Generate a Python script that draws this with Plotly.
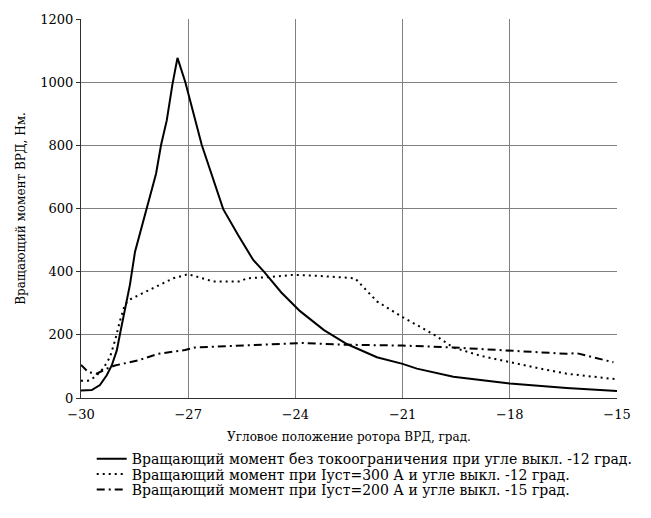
import plotly.graph_objects as go

# Rotor angle, degrees, and torque, N*m, for three switching modes
angle_free = [-30.0, -29.7, -29.47, -29.28, -29.14, -29.0, -28.91, -28.79, -28.63, -28.49,
              -28.16, -27.9, -27.76, -27.6, -27.44, -27.3, -27.08, -26.62, -26.02, -25.6,
              -25.18, -24.88, -24.4, -23.87, -23.2, -22.56, -21.72, -21.0, -20.6, -19.58,
              -18.0, -16.41, -15.0]
torque_free = [24, 25, 41, 72, 103, 150, 202, 265, 359, 462,
               598, 710, 801, 879, 994, 1077, 1000, 801, 598, 515,
               437, 400, 335, 275, 215, 171, 129, 108, 93, 67,
               46, 32, 22]

angle_300 = [-30.0, -29.8, -29.6, -29.38, -29.19, -29.05, -28.91, -28.77, -28.63, -28.07,
             -27.42, -27.0, -26.6, -26.3, -25.55, -25.36, -24.7, -24.06, -23.4, -22.75,
             -22.33, -21.72, -21.0, -20.14, -19.58, -18.83, -18.0, -17.15, -16.41, -15.0]
torque_300 = [55, 55, 67, 93, 129, 181, 244, 296, 312, 343,
              379, 392, 378, 369, 369, 379, 383, 390, 387, 381,
              379, 306, 256, 202, 160, 134, 113, 93, 77, 59]

angle_200 = [-30.0, -29.8, -29.56, -29.28, -29.05, -28.4, -27.84, -27.09, -26.81, -25.55,
             -23.78, -22.75, -21.0, -19.58, -18.0, -16.41, -16.13, -15.1]
torque_200 = [105, 82, 77, 93, 103, 119, 140, 152, 160, 166,
              174, 169, 166, 160, 150, 140, 142, 113]

x_ticks = [-30, -27, -24, -21, -18, -15]
y_ticks = [0, 200, 400, 600, 800, 1000, 1200]

names = [
    "Вращающий момент без токоограничения при угле выкл. -12 град.",
    "Вращающий момент при Iуст=300 А и угле выкл. -12 град.",
    "Вращающий момент при Iуст=200 А и угле выкл. -15 град.",
]

serif = "DejaVu Serif"

fig = go.Figure()
fig.add_trace(go.Scatter(x=angle_free, y=torque_free, mode="lines", name=names[0],
                         legend="legend",
                         line=dict(color="black", width=2, dash="solid")))
fig.add_trace(go.Scatter(x=angle_300, y=torque_300, mode="lines", name=names[1],
                         legend="legend2",
                         line=dict(color="black", width=2, dash="2px,4px")))
fig.add_trace(go.Scatter(x=angle_200, y=torque_200, mode="lines", name=names[2],
                         legend="legend3",
                         line=dict(color="black", width=2, dash="8px,4px,2px,4px")))

# one legend box per row so the rows sit close together
legend_style = dict(
    x=0.02, xanchor="left", yanchor="middle",
    bgcolor="rgba(0,0,0,0)", borderwidth=0, itemwidth=30,
    font=dict(family=serif, size=14, color="black"),
)

fig.update_layout(
    width=651, height=518,
    margin=dict(l=81, r=34, t=14, b=120),
    paper_bgcolor="white", plot_bgcolor="white",
    font=dict(family=serif, color="black", size=13),
    showlegend=True,
    legend=dict(legend_style, y=-0.1615),
    legend2=dict(legend_style, y=-0.2018),
    legend3=dict(legend_style, y=-0.2422),
    xaxis=dict(
        range=[-30, -15], tickvals=x_ticks, showgrid=True, gridcolor="#808080",
        gridwidth=1, showline=True, linecolor="#303030", linewidth=1,
        zeroline=False, ticks="", ticklabelstandoff=4,
        tickfont=dict(family=serif, size=13),
        title=dict(text="Угловое положение ротора ВРД, град.",
                   font=dict(family=serif, size=12), standoff=12),
    ),
    yaxis=dict(
        range=[0, 1200], tickvals=y_ticks, showgrid=True, gridcolor="#808080",
        gridwidth=1, showline=True, linecolor="#303030", linewidth=1,
        zeroline=False, ticks="outside", ticklen=4, tickcolor="#303030",
        tickfont=dict(family=serif, size=13),
        title=dict(text="Вращающий момент ВРД, Нм.",
                   font=dict(family=serif, size=12), standoff=12),
    ),
)

fig.write_html("out.html")
